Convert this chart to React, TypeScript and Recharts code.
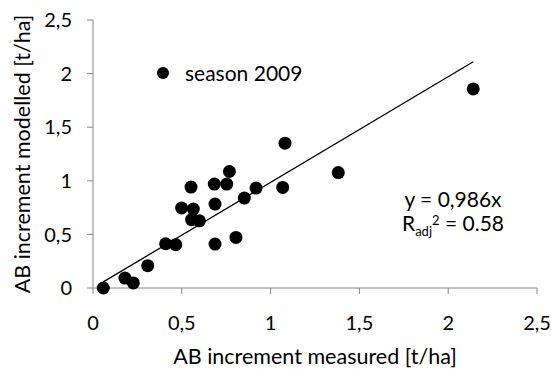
import {
  ScatterChart, Scatter, XAxis, YAxis, ReferenceLine, Label,
} from 'recharts';

// AB increment, season 2009
const measured = [
  0.058, 0.18, 0.227, 0.308, 0.409, 0.466, 0.499, 0.552, 0.565, 0.555, 0.599, 0.683,
  0.687, 0.687, 0.753, 0.768, 0.852, 0.918, 0.805, 1.068, 1.081, 1.381, 2.141,
];
const modelled = [
  0.0, 0.093, 0.047, 0.208, 0.413, 0.404, 0.746, 0.941, 0.736, 0.637, 0.627, 0.969,
  0.783, 0.41, 0.969, 1.087, 0.839, 0.932, 0.472, 0.938, 1.351, 1.077, 1.857,
];
const axisTicks = [0, 0.5, 1, 1.5, 2, 2.5];
const slope = 0.986;
const seriesName = 'season 2009';

const FONT = 'Lato, "Open Sans", sans-serif';
const AXIS_COLOR = '#868686';

const fmt = (v: number) => String(v).replace('.', ',');

export default function App() {
  const data = measured.map((x, i) => ({ x, y: modelled[i] }));
  const xMin = Math.min(...measured);
  const xMax = Math.max(...measured);

  return (
    <div style={{ position: 'absolute', left: 0, top: 0, width: 551, height: 369, background: '#fff' }}>
      <ScatterChart width={551} height={369} margin={{ top: 20, right: 14, bottom: 0, left: 0 }}>
        <XAxis
          type="number"
          dataKey="x"
          domain={[0, 2.5]}
          ticks={axisTicks}
          tickFormatter={fmt}
          stroke={AXIS_COLOR}
          tickSize={6}
          tickMargin={22}
          height={81}
          tick={{ fill: '#000', fontSize: 20, fontFamily: FONT }}
        >
          <Label
            value="AB increment measured [t/ha]"
            position="insideBottom"
            offset={5}
            style={{ fill: '#000', fontSize: 21.5, fontFamily: FONT }}
          />
        </XAxis>
        <YAxis
          type="number"
          dataKey="y"
          domain={[0, 2.5]}
          ticks={axisTicks}
          tickFormatter={fmt}
          stroke={AXIS_COLOR}
          tickSize={6}
          tickMargin={15}
          width={93}
          tick={{ fill: '#000', fontSize: 20, fontFamily: FONT }}
        >
          <Label
            content={({ viewBox }: any) => {
              const cy = viewBox.y + viewBox.height / 2;
              return (
                <text
                  x={30}
                  y={cy}
                  transform={`rotate(-90, 30, ${cy})`}
                  textAnchor="middle"
                  fill="#000"
                  fontSize={21.5}
                  fontFamily={FONT}
                >
                  AB increment modelled [t/ha]
                </text>
              );
            }}
          />
        </YAxis>
        <ReferenceLine
          segment={[{ x: xMin, y: slope * xMin }, { x: xMax, y: slope * xMax }]}
          stroke="#000"
          strokeWidth={1.3}
          ifOverflow="visible"
        />
        <Scatter
          name={seriesName}
          data={data}
          fill="#000"
          isAnimationActive={false}
          shape={(p: any) => <circle cx={p.cx} cy={p.cy} r={6.5} fill="#000" />}
        />
      </ScatterChart>
      <div
        style={{
          position: 'absolute', left: 156, top: 60, display: 'flex', alignItems: 'center',
          fontFamily: FONT, fontSize: 21, lineHeight: '26px', color: '#000',
        }}
      >
        <svg width={14} height={14} style={{ marginRight: 15 }}>
          <circle cx={7} cy={7} r={6} fill="#000" />
        </svg>
        <span>{seriesName}</span>
      </div>
      <div
        style={{
          position: 'absolute', left: 376, top: 187, width: 154, textAlign: 'center',
          fontFamily: FONT, fontSize: 21, lineHeight: '23px', color: '#000',
        }}
      >
        <div>y = 0,986x</div>
        <div style={{ marginTop: 1 }}>
          R<sub style={{ fontSize: 13, lineHeight: 0 }}>adj</sub>
          <sup style={{ fontSize: 13, lineHeight: 0, verticalAlign: '0.45em' }}>2</sup> = 0.58
        </div>
      </div>
    </div>
  );
}
